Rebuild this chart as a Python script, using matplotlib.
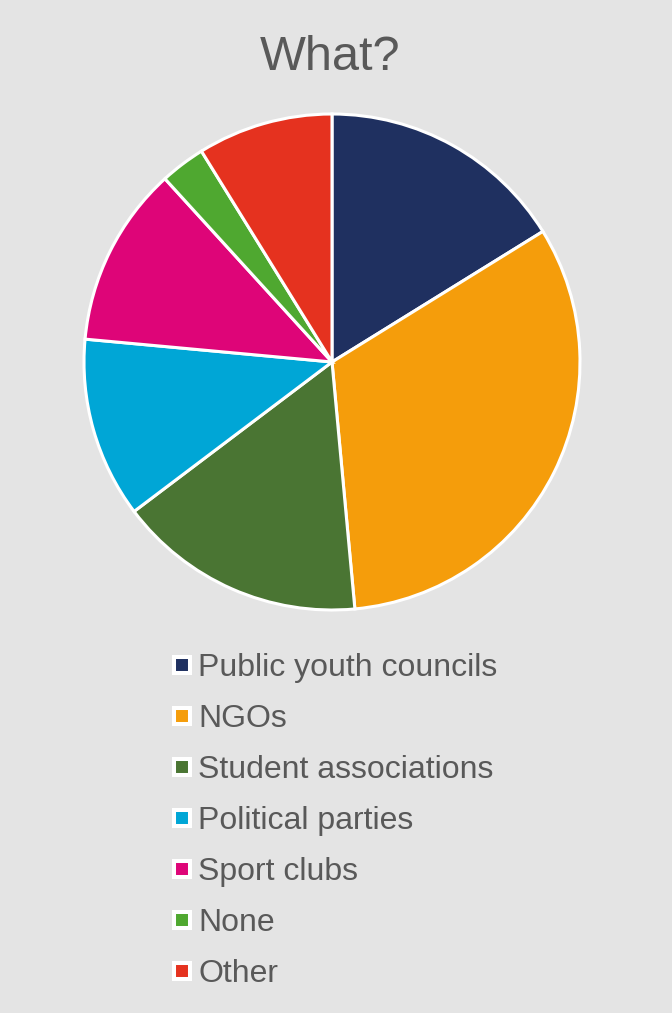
import matplotlib
matplotlib.use("Agg")
import matplotlib.pyplot as plt
from matplotlib.lines import Line2D

plt.rcParams['font.family'] = ['Liberation Sans', 'DejaVu Sans']

labels = ["Public youth councils", "NGOs", "Student associations",
          "Political parties", "Sport clubs", "None", "Other"]
counts = [11, 22, 11, 8, 8, 2, 6]
colors = ["#1F3060", "#F59D0B", "#4A7533", "#00A6D6", "#DE0578", "#4FA830", "#E5321F"]

bg = "#E4E4E4"
text_color = "#595959"

W, H = 672, 1013
fig = plt.figure(figsize=(W / 100, H / 100), dpi=100, facecolor=bg)

# pie area in pixels: centre (332, 362), radius 248
cx, cy, r = 332, 362, 248
ax = fig.add_axes([(cx - r) / W, (H - cy - r) / H, 2 * r / W, 2 * r / H])
ax.set_facecolor(bg)
ax.pie(counts, colors=colors, startangle=90, counterclock=False,
       wedgeprops=dict(edgecolor="white", linewidth=2.2))
ax.set_xlim(-1, 1)
ax.set_ylim(-1, 1)
ax.set_aspect("equal")
for p in ax.patches:
    p.set_clip_on(False)

fig.text(330 / W, (H - 70) / H, "What?", ha="center", va="baseline",
         fontsize=35, color=text_color)

handles = [Line2D([], [], linestyle="none", marker="s", markersize=12,
                  markerfacecolor=c, markeredgecolor="white", markeredgewidth=2.9)
           for c in colors]
leg = fig.legend(handles, labels, loc="upper left",
                 bbox_to_anchor=(172 / W, (H - 653) / H),
                 frameon=False, fontsize=23, labelcolor=text_color,
                 handlelength=0.6, handletextpad=0.22, labelspacing=0.66,
                 borderpad=0, borderaxespad=0)

fig.savefig("out.png", dpi=100, facecolor=bg)
